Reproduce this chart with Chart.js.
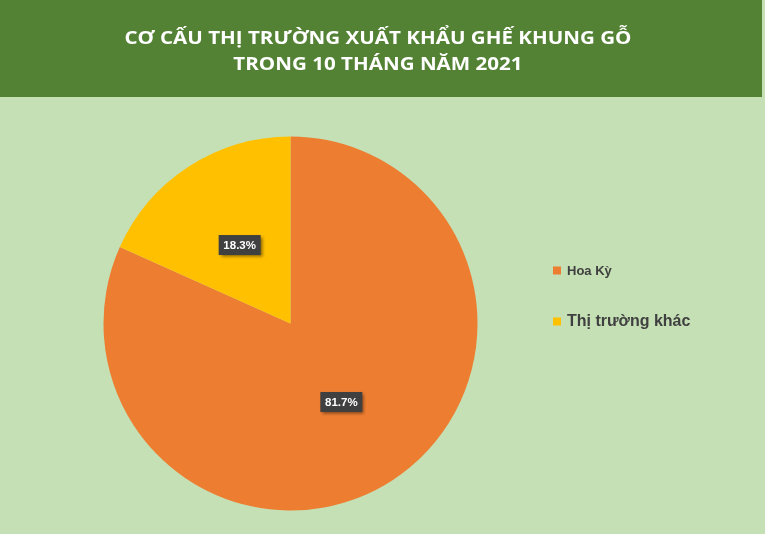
<!DOCTYPE html>
<html lang="vi">
<head>
<meta charset="UTF-8">
<title>Cơ cấu thị trường xuất khẩu ghế khung gỗ</title>
<script src="https://cdn.jsdelivr.net/npm/chart.js"></script>
<style>
  html,body{margin:0;padding:0;width:765px;height:534px;overflow:hidden;background:#c5e0b4;}
  #banner{position:absolute;left:0;top:0;width:762px;height:97px;background:#548235;z-index:2;}
  #banner div{position:absolute;left:0;width:756px;text-align:center;color:#fff;
    font-family:"Open Sans",sans-serif;font-weight:700;font-size:18px;line-height:20px;white-space:nowrap;}
  #t1{top:27px;} #t2{top:53px;}
  #wrap{position:absolute;left:0;top:0;width:765px;height:534px;}
</style>
</head>
<body>
<div id="banner">
  <div id="t1">CƠ CẤU THỊ TRƯỜNG XUẤT KHẨU GHẾ KHUNG GỖ</div>
  <div id="t2">TRONG 10 THÁNG NĂM 2021</div>
</div>
<div id="wrap"><canvas id="c"></canvas></div>
<script>
// số liệu
const markets = ['Hoa Kỳ', 'Thị trường khác'];
const shares  = [81.7, 18.3];
const colors  = ['#ed7d31', '#ffc000'];
const legendSizes = [13, 16];

// co tiêu đề cho vừa bề ngang như ảnh gốc
(function(){
  const t1 = document.getElementById('t1'), t2 = document.getElementById('t2');
  const span = document.createElement('span');
  span.textContent = t1.textContent;
  t1.textContent = ''; t1.appendChild(span);
  const k = 507 / span.getBoundingClientRect().width;
  [t1, t2].forEach(el => { el.style.transform = 'scaleX(' + k + ')'; el.style.transformOrigin = '378px 0'; });
})();

// nhãn % trên lát bánh
const sliceLabels = {
  id: 'sliceLabels',
  afterDatasetsDraw(chart) {
    const ctx = chart.ctx;
    const ds = chart.data.datasets[0];
    chart.getDatasetMeta(0).data.forEach((arc, i) => {
      const p = arc.getProps(['x','y','startAngle','endAngle','outerRadius'], true);
      const mid = (p.startAngle + p.endAngle) / 2;
      const x = p.x + Math.cos(mid) * p.outerRadius * 0.5;
      const y = p.y + Math.sin(mid) * p.outerRadius * 0.5;
      const txt = ds.data[i].toFixed(1) + '%';
      ctx.save();
      ctx.font = 'bold 11.5px "Liberation Sans", Arial, sans-serif';
      const w = 42, h = 20;
      ctx.shadowColor = 'rgba(0,0,0,0.45)';
      ctx.shadowBlur = 3; ctx.shadowOffsetX = 2; ctx.shadowOffsetY = 2;
      ctx.fillStyle = '#404040';
      ctx.fillRect(x - w/2, y - h/2, w, h);
      ctx.shadowColor = 'transparent';
      ctx.fillStyle = '#ffffff';
      ctx.textAlign = 'center'; ctx.textBaseline = 'middle';
      ctx.fillText(txt, x, y + 0.5);
      ctx.restore();
    });
  }
};

// chú giải bên phải
const sideLegend = {
  id: 'sideLegend',
  afterDraw(chart) {
    const ctx = chart.ctx;
    const rows = [270.5, 321.5];
    chart.data.labels.forEach((lab, i) => {
      ctx.save();
      ctx.fillStyle = chart.data.datasets[0].backgroundColor[i];
      ctx.fillRect(553, rows[i] - 4, 8, 8);
      ctx.font = 'bold ' + legendSizes[i] + 'px "Liberation Sans", Arial, sans-serif';
      ctx.fillStyle = '#404040';
      ctx.textBaseline = 'middle';
      ctx.fillText(lab, 567, rows[i] + 0.5);
      ctx.restore();
    });
  }
};

new Chart(document.getElementById('c'), {
  type: 'pie',
  data: {
    labels: markets,
    datasets: [{ data: shares, backgroundColor: colors, borderWidth: 0 }]
  },
  options: {
    responsive: true,
    maintainAspectRatio: false,
    animation: false,
    layout: { padding: { top: 136.5, bottom: 23.5, left: 103.5, right: 287.5 } },
    plugins: { legend: { display: false }, tooltip: { enabled: false } }
  },
  plugins: [sliceLabels, sideLegend]
});
</script>
</body>
</html>
